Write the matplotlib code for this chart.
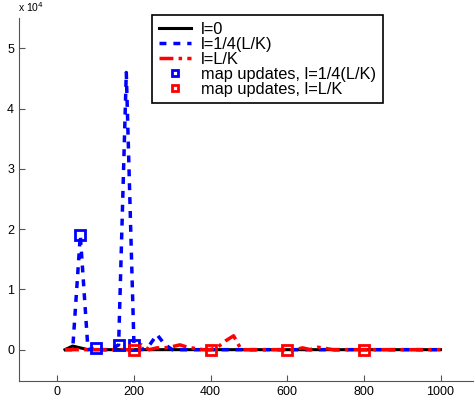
import matplotlib
matplotlib.use("Agg")
import matplotlib.pyplot as plt
import numpy as np

plt.rcParams['font.family'] = ['Liberation Sans', 'DejaVu Sans']

# sample positions
x = [20, 40, 60, 80, 100, 120, 140, 160, 180, 200,
     220, 240, 260, 280, 300, 320, 340, 360, 380, 400,
     420, 440, 460, 480, 500, 520, 540, 560, 580, 600,
     620, 640, 660, 680, 700, 720, 740, 760, 780, 800,
     820, 840, 860, 880, 900, 920, 940, 960, 980, 1000]

l0 = [0, 600, 300, 0, 0, 0, 0, 0, 0, 0,
      0, 0, 0, 0, 0, 0, 0, 0, 0, 0,
      0, 0, 0, 0, 0, 0, 0, 0, 0, 0,
      0, 0, 0, 0, 0, 0, 0, 0, 0, 0,
      0, 0, 0, 0, 0, 0, 0, 0, 0, 0]

l_quarter = [0, 0, 19000, 0, 300, 0, 0, 800, 46000, 800,
             0, 700, 2500, 900, 0, 0, 0, 0, 0, 0,
             0, 0, 0, 0, 0, 0, 0, 0, 0, 0,
             0, 0, 0, 0, 0, 0, 0, 0, 0, 0,
             0, 0, 0, 0, 0, 0, 0, 0, 0, 0]

l_full = [0, 0, 0, 0, 0, 0, 0, 0, 0, 0,
          800, 0, 300, 300, 500, 800, 400, 200, 0, 0,
          500, 1500, 2300, 0, 0, 0, 0, 0, 0, 0,
          0, 300, 0, 400, 200, 0, 0, 0, 0, 0,
          0, 0, 0, 0, 0, 0, 0, 0, 0, 0]

upd_quarter_x = [60, 100, 160, 200]
upd_quarter_y = [19000, 300, 800, 800]
upd_full_x = [200, 400, 600, 800]
upd_full_y = [0, 0, 0, 0]

fig = plt.figure(figsize=(4.75, 4.03), dpi=100)
ax = fig.add_axes([0.04, 0.0546, 0.956, 0.9])

ax.plot(x, l0, color='black', lw=2.2, label='l=0')
ax.plot(x, l_quarter, color='blue', lw=2.5, ls=(0, (2, 2)), label='l=1/4(L/K)')
ax.plot(x, l_full, color='red', lw=2.5, ls=(0, (4, 1.5, 1, 1.5)), label='l=L/K')
ax.plot(upd_quarter_x, upd_quarter_y, ls='none', marker='s', ms=7.5, mfc='none',
        mec='blue', mew=2, label='map updates, l=1/4(L/K)')
ax.plot(upd_full_x, upd_full_y, ls='none', marker='s', ms=7.5, mfc='none',
        mec='red', mew=2, label='map updates, l=L/K')

ax.set_xlim(-100, 1085)
ax.set_ylim(-5200, 55000)
ax.set_xticks([0, 200, 400, 600, 800, 1000])
ax.set_yticks([0, 10000, 20000, 30000, 40000, 50000])
ax.set_yticklabels(['0', '1', '2', '3', '4', '5'])
ax.tick_params(direction='in', labelsize=9, length=4, color='#555555')
for s in ['top', 'right']:
    ax.spines[s].set_visible(False)
for s in ['left', 'bottom']:
    ax.spines[s].set_color('#555555')
fig.text(0.037, 0.965, r'x 10$^4$', fontsize=7.5, va='bottom', ha='left')

leg = ax.legend(loc='upper left', bbox_to_anchor=(152 / 475, 1 - 15 / 403),
                bbox_transform=fig.transFigure, borderaxespad=0, fontsize=11.8,
                fancybox=False, framealpha=1, edgecolor='black',
                handlelength=2.0, handletextpad=0.6, labelspacing=0.0,
                borderpad=0.4)
leg.get_frame().set_linewidth(1.2)
for h in leg.legend_handles[3:]:
    h.set_markersize(5)

fig.savefig('out.png', dpi=100)
